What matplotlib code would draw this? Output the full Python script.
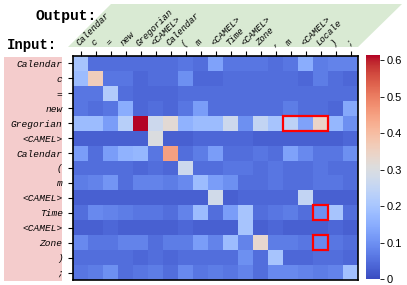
import numpy as np
import matplotlib
matplotlib.use('Agg')
import matplotlib.pyplot as plt
from matplotlib.patches import Rectangle, Polygon

# tokens
out_tokens = ['Calendar', 'c', '=', 'new', 'Gregorian', '<CAMEL>', 'Calendar', '(', 'm',
              '<CAMEL>', 'Time', '<CAMEL>', 'Zone', ',', 'm', '<CAMEL>', 'Locale', ')', ';']
in_tokens = ['Calendar', 'c', '=', 'new', 'Gregorian', '<CAMEL>', 'Calendar', '(', 'm',
             '<CAMEL>', 'Time', '<CAMEL>', 'Zone', ')', ';']

# attention weights (rows: input, cols: output)
attn = np.array([
    [0.20, 0.05, 0.05, 0.05, 0.05, 0.05, 0.05, 0.06, 0.05, 0.13, 0.06, 0.06, 0.06, 0.05, 0.06, 0.15, 0.07, 0.08, 0.08],
    [0.18, 0.36, 0.06, 0.06, 0.04, 0.05, 0.05, 0.10, 0.04, 0.04, 0.05, 0.05, 0.05, 0.05, 0.05, 0.04, 0.07, 0.05, 0.04],
    [0.06, 0.06, 0.22, 0.05, 0.04, 0.04, 0.04, 0.05, 0.05, 0.05, 0.05, 0.05, 0.05, 0.05, 0.05, 0.05, 0.05, 0.05, 0.05],
    [0.06, 0.05, 0.06, 0.15, 0.04, 0.05, 0.04, 0.06, 0.12, 0.05, 0.05, 0.05, 0.05, 0.05, 0.07, 0.05, 0.05, 0.04, 0.14],
    [0.18, 0.18, 0.12, 0.23, 0.614, 0.27, 0.32, 0.16, 0.18, 0.18, 0.27, 0.10, 0.25, 0.20, 0.24, 0.13, 0.34, 0.17, 0.10],
    [0.03, 0.03, 0.03, 0.03, 0.03, 0.30, 0.03, 0.03, 0.04, 0.04, 0.04, 0.04, 0.03, 0.03, 0.03, 0.03, 0.03, 0.03, 0.04],
    [0.12, 0.05, 0.12, 0.16, 0.17, 0.06, 0.45, 0.05, 0.07, 0.12, 0.05, 0.05, 0.06, 0.05, 0.13, 0.09, 0.06, 0.06, 0.10],
    [0.05, 0.05, 0.05, 0.05, 0.04, 0.05, 0.04, 0.27, 0.05, 0.05, 0.06, 0.06, 0.05, 0.06, 0.05, 0.05, 0.06, 0.05, 0.05],
    [0.07, 0.08, 0.11, 0.05, 0.08, 0.08, 0.07, 0.09, 0.18, 0.12, 0.10, 0.05, 0.05, 0.06, 0.05, 0.05, 0.06, 0.06, 0.05],
    [0.03, 0.03, 0.03, 0.03, 0.03, 0.03, 0.03, 0.03, 0.03, 0.28, 0.03, 0.04, 0.04, 0.04, 0.04, 0.25, 0.03, 0.03, 0.03],
    [0.05, 0.09, 0.08, 0.07, 0.06, 0.06, 0.05, 0.08, 0.18, 0.05, 0.12, 0.20, 0.05, 0.06, 0.07, 0.05, 0.10, 0.20, 0.05],
    [0.03, 0.03, 0.04, 0.03, 0.03, 0.03, 0.03, 0.04, 0.03, 0.03, 0.03, 0.20, 0.03, 0.04, 0.03, 0.03, 0.03, 0.04, 0.03],
    [0.09, 0.06, 0.06, 0.08, 0.08, 0.05, 0.07, 0.07, 0.12, 0.08, 0.18, 0.08, 0.33, 0.07, 0.07, 0.06, 0.09, 0.06, 0.05],
    [0.05, 0.05, 0.05, 0.05, 0.04, 0.05, 0.04, 0.05, 0.05, 0.05, 0.05, 0.10, 0.05, 0.20, 0.04, 0.04, 0.05, 0.05, 0.04],
    [0.06, 0.07, 0.10, 0.05, 0.06, 0.07, 0.05, 0.09, 0.06, 0.07, 0.06, 0.08, 0.05, 0.09, 0.09, 0.08, 0.07, 0.08, 0.19],
])

# highlighted cells (row, col)
boxes = [(4, 14), (4, 15), (4, 16), (10, 16), (12, 16)]

W, H = 407, 285
fig = plt.figure(figsize=(W / 100, H / 100), dpi=100)

def fx(px):
    return px / W

def fy(py):
    return 1 - py / H

# background decorations, drawn below the axes
fig.patches.append(Rectangle((fx(4), fy(281)), fx(62) - fx(4), fy(57) - fy(281),
                             transform=fig.transFigure, facecolor='#f4cccc', edgecolor='none', zorder=-5))
fig.patches.append(Polygon([(fx(68), fy(47)), (fx(358), fy(47)), (fx(402), fy(4)), (fx(111), fy(4))],
                           closed=True, transform=fig.transFigure, facecolor='#d9ead3', edgecolor='none', zorder=-5))

ax = fig.add_axes([fx(73), fy(280), fx(358) - fx(73), fy(56) - fy(280)])
ax.patch.set_alpha(0)
im = ax.imshow(attn, cmap='coolwarm', vmin=0, vmax=0.614, aspect='auto', interpolation='nearest')

# red boxes, merged horizontally for the first row
ax.add_patch(Rectangle((14 - 0.5, 4 - 0.5), 3, 1, fill=False, edgecolor='red', linewidth=1.6))
for r, c in boxes[3:]:
    ax.add_patch(Rectangle((c - 0.5, r - 0.5), 1, 1, fill=False, edgecolor='red', linewidth=1.6))

mono = ['Liberation Mono', 'DejaVu Sans Mono']
ax.xaxis.tick_top()
ax.set_xticks(range(len(out_tokens)))
ax.set_xticklabels(out_tokens, rotation=45, ha='left', va='bottom', rotation_mode='anchor',
                   family=mono, style='italic', fontsize=6.5)
ax.set_yticks(range(len(in_tokens)))
ax.set_yticklabels(in_tokens, family=mono, style='italic', fontsize=6.8)
ax.tick_params(axis='both', length=3.5, width=0.8, pad=2.5)
ax.tick_params(axis='y', pad=4)
for s in ax.spines.values():
    s.set_linewidth(1.2)

fig.text(fx(66), fy(16), 'Output:', family=mono, weight='bold', fontsize=10.5, ha='center', va='center')
fig.text(fx(32), fy(45), 'Input:', family=mono, weight='bold', fontsize=10, ha='center', va='center')

cax = fig.add_axes([fx(366), fy(279), fx(380) - fx(366), fy(55) - fy(279)])
cb = fig.colorbar(im, cax=cax, ticks=[0, 0.1, 0.2, 0.3, 0.4, 0.5, 0.6])
cb.set_ticklabels(['0', '0.1', '0.2', '0.3', '0.4', '0.5', '0.6'])
cb.outline.set_visible(False)
cax.tick_params(labelsize=8, length=3, width=0.6, pad=1.5)
for t in cax.get_yticklabels():
    t.set_family(['Liberation Sans', 'DejaVu Sans'])

fig.savefig('out.png', dpi=100)
